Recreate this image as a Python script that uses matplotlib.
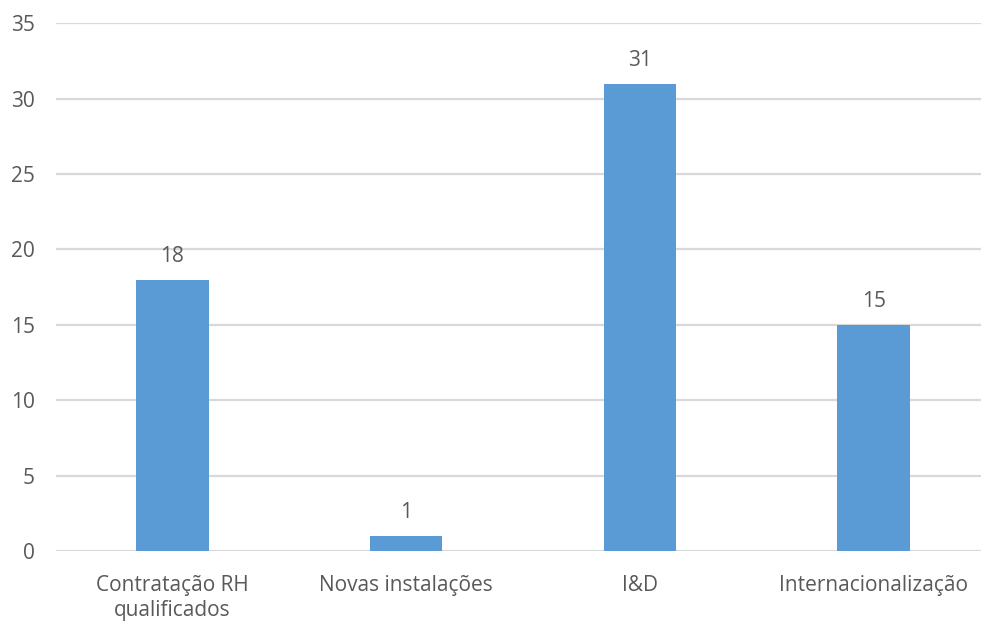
import matplotlib
matplotlib.use("Agg")
import matplotlib.pyplot as plt

categories = ["Contratação RH\nqualificados", "Novas instalações", "I&D", "Internacionalização"]
values = [18, 1, 31, 15]
yticks = [0, 5, 10, 15, 20, 25, 30, 35]

plt.rcParams['font.family'] = ['Open Sans', 'DejaVu Sans']
text_color = "#595959"
fs = 15

fig = plt.figure(figsize=(9.81, 6.21), dpi=100)
W, H = 981, 621
left, right = 55.5, 990.5
bottom, top = 551, 23.3
ax = fig.add_axes([left / W, (H - bottom) / H, (right - left) / W, (bottom - top) / H])

x = list(range(len(categories)))
bars = ax.bar(x, values, width=0.31, color="#5B9BD5", zorder=3)
ax.set_xlim(-0.5, len(categories) - 0.5)
ax.set_ylim(0, 35)
ax.set_yticks(yticks)
ax.set_yticklabels([str(t) for t in yticks])
ax.set_xticks(x)
ax.set_xticklabels(categories)

for s in ax.spines.values():
    s.set_visible(False)
ax.grid(axis="y", color="#D9D9D9", linewidth=1.6, zorder=0)
ax.tick_params(axis="both", length=0, labelsize=fs, colors=text_color)
ax.tick_params(axis="y", pad=15)
ax.tick_params(axis="x", pad=17)
for lbl in ax.get_xticklabels():
    lbl.set_linespacing(1.3)

for xi, v in zip(x, values):
    ax.annotate(str(v), (xi, v), xytext=(0, 9), textcoords="offset points",
                ha="center", va="bottom", fontsize=fs, color=text_color)

fig.savefig("out.png", dpi=100)
